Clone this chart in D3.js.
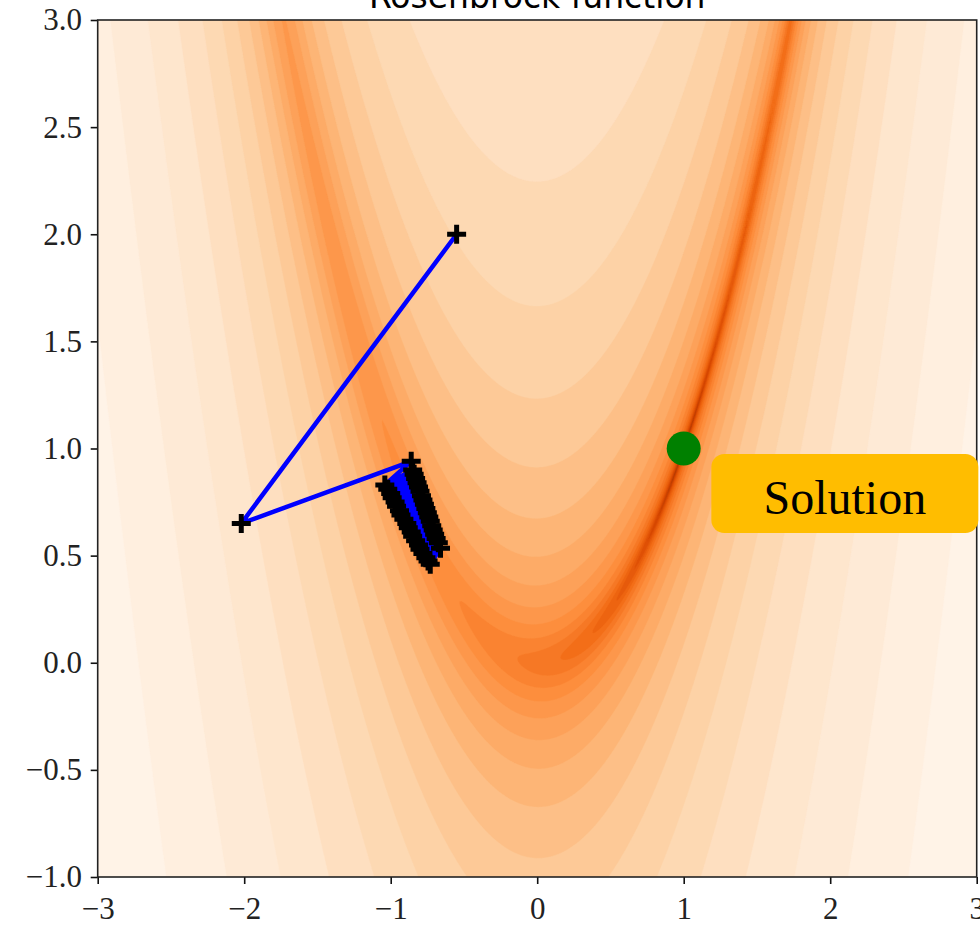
<!DOCTYPE html>
<html>
<head>
<meta charset="utf-8">
<script src="https://cdn.jsdelivr.net/npm/d3@7"></script>
<style>
  html, body { margin: 0; padding: 0; background: #fff; }
  svg { display: block; }
</style>
</head>
<body>
<svg id="chart" width="980" height="925"></svg>
<script>
// contour levels, log spaced 1e-3 .. 1e4
const levels = [0.001, 0.001817, 0.0033, 0.005995, 0.010889, 0.019783, 0.035938,
  0.065283, 0.1186, 0.21544, 0.39136, 0.71097, 1.2915, 2.3462, 4.262, 7.7426,
  14.065, 25.551, 46.416, 84.317, 153.17, 278.26, 505.48, 918.27, 1668.1,
  3030.3, 5504.9, 10000];

// optimizer iterates (start, two long steps, then the zig-zag down the valley)
const pathX = [-0.55, -2.02, -0.86,
  -1.04, -0.85, -1.02, -0.84, -1.00, -0.83, -0.99, -0.82, -0.97, -0.81,
  -0.96, -0.80, -0.94, -0.79, -0.93, -0.78, -0.91, -0.77, -0.89, -0.76,
  -0.88, -0.75, -0.86, -0.74, -0.85, -0.73, -0.83, -0.72, -0.81, -0.71,
  -0.80, -0.70, -0.78, -0.69, -0.76, -0.675, -0.745, -0.66, -0.73];
const pathY = [2.0, 0.65, 0.94,
  0.83, 0.90, 0.81, 0.88, 0.79, 0.86, 0.77, 0.84, 0.75, 0.82,
  0.73, 0.80, 0.71, 0.78, 0.69, 0.76, 0.67, 0.74, 0.65, 0.72,
  0.63, 0.70, 0.61, 0.68, 0.59, 0.66, 0.57, 0.64, 0.55, 0.62,
  0.53, 0.60, 0.51, 0.58, 0.49, 0.56, 0.475, 0.535, 0.46];

const solution = { x: 1, y: 1, label: "Solution", labelX: 2.1, labelY: 0.79 };
const xTicks = [-3, -2, -1, 0, 1, 2, 3];
const yTicks = [-1, -0.5, 0, 0.5, 1, 1.5, 2, 2.5, 3];
const title = "Rosenbrock function";

// matplotlib "Oranges" stops
const orangesStops = ["#fff5eb", "#fee6ce", "#fdd0a2", "#fdae6b", "#fd8d3c",
  "#f16913", "#d94801", "#a63603", "#7f2704"];

function rosenbrock(a, b) {
  return (1 - a) ** 2 + 100 * (b - a * a) ** 2;
}

const W = 980, H = 925;
const margin = { left: 97.7, right: 3.3, top: 20, bottom: 48 };

const svg = d3.select("#chart");

const x = d3.scaleLinear().domain([-3, 3]).range([margin.left, W - margin.right]);
const y = d3.scaleLinear().domain([-1, 3]).range([H - margin.bottom, margin.top]);

// sample the function on a grid (cell centres)
const nx = 480, ny = 440;
const gx = d3.scaleLinear().domain([0, nx]).range(x.domain());
const gy = d3.scaleLinear().domain([0, ny]).range(y.domain());
const values = new Float64Array(nx * ny);
for (let j = 0; j < ny; j++) {
  for (let i = 0; i < nx; i++) {
    values[j * nx + i] = rosenbrock(gx(i + 0.5), gy(j + 0.5));
  }
}

const contours = d3.contours().size([nx, ny]).thresholds(levels)(values);
const proj = d3.geoTransform({
  point(u, v) { this.stream.point(x(gx(u)), y(gy(v))); }
});
const geo = d3.geoPath(proj);

const oranges = d3.scaleLinear()
  .domain(orangesStops.map((d, i) => i / (orangesStops.length - 1)))
  .range(orangesStops)
  .interpolate(d3.interpolateRgb)
  .clamp(true);
const norm = d3.scaleLog()
  .domain([levels[0], levels[levels.length - 1]])
  .range([1, 0])
  .clamp(true);
const bandColor = (k) =>
  k < levels.length - 1 ? oranges(norm((levels[k] + levels[k + 1]) / 2)) : "#ffffff";

svg.append("clipPath").attr("id", "plotclip")
  .append("rect")
  .attr("x", x(-3)).attr("y", y(3))
  .attr("width", x(3) - x(-3)).attr("height", y(-1) - y(3));

const plot = svg.append("g").attr("clip-path", "url(#plotclip)");

plot.selectAll("path.band")
  .data(contours)
  .join("path")
  .attr("class", "band")
  .attr("d", geo)
  .attr("fill", (d, i) => bandColor(i))
  .attr("stroke", (d, i) => bandColor(i))
  .attr("stroke-width", 0.4);

// optimizer path
const pts = pathX.map((d, i) => [d, pathY[i]]);
plot.append("path")
  .datum(pts)
  .attr("d", d3.line().x(d => x(d[0])).y(d => y(d[1])))
  .attr("fill", "none")
  .attr("stroke", "#0000ff")
  .attr("stroke-width", 4.5)
  .attr("stroke-linejoin", "round");

plot.selectAll("path.mark")
  .data(pts)
  .join("path")
  .attr("class", "mark")
  .attr("transform", d => `translate(${x(d[0])},${y(d[1])})`)
  .attr("d", "M-9.5,0H9.5M0,-9.5V9.5")
  .attr("stroke", "#000")
  .attr("stroke-width", 5);

plot.append("circle")
  .attr("cx", x(solution.x))
  .attr("cy", y(solution.y))
  .attr("r", 17)
  .attr("fill", "#008000");

// axes
const tickFont = "'Liberation Serif', 'DejaVu Serif', serif";
const xAxis = svg.append("g")
  .attr("transform", `translate(0,${y(-1)})`)
  .call(d3.axisBottom(x).tickValues(xTicks).tickFormat(d3.format("d"))
    .tickSize(7).tickPadding(13));
const yAxis = svg.append("g")
  .attr("transform", `translate(${x(-3)},0)`)
  .call(d3.axisLeft(y).tickValues(yTicks).tickFormat(d3.format(".1f"))
    .tickSize(7).tickPadding(8.7));

[xAxis, yAxis].forEach(g => {
  g.select(".domain").remove();
  g.selectAll(".tick line").attr("stroke", "#111").attr("stroke-width", 1.6);
  g.selectAll(".tick text")
    .attr("fill", "#222")
    .style("font-family", tickFont)
    .style("font-size", "31px");
});

svg.append("rect")
  .attr("x", x(-3)).attr("y", y(3))
  .attr("width", x(3) - x(-3)).attr("height", y(-1) - y(3))
  .attr("fill", "none")
  .attr("stroke", "#222")
  .attr("stroke-width", 1.6);

svg.append("text")
  .attr("x", (x(-3) + x(3)) / 2)
  .attr("y", 8)
  .attr("text-anchor", "middle")
  .style("font-family", "'DejaVu Sans', sans-serif")
  .style("font-size", "33px")
  .attr("fill", "#000")
  .text(title);

// annotation box
const lx = x(solution.labelX), ly = y(solution.labelY);
svg.append("rect")
  .attr("x", lx - 133.5).attr("y", ly - 39.5)
  .attr("width", 267).attr("height", 79)
  .attr("rx", 13).attr("ry", 13)
  .attr("fill", "#ffbd00");
svg.append("text")
  .attr("x", lx)
  .attr("y", ly + 20.5)
  .attr("text-anchor", "middle")
  .style("font-family", tickFont)
  .style("font-size", "48px")
  .attr("fill", "#000")
  .text(solution.label);
</script>
</body>
</html>
